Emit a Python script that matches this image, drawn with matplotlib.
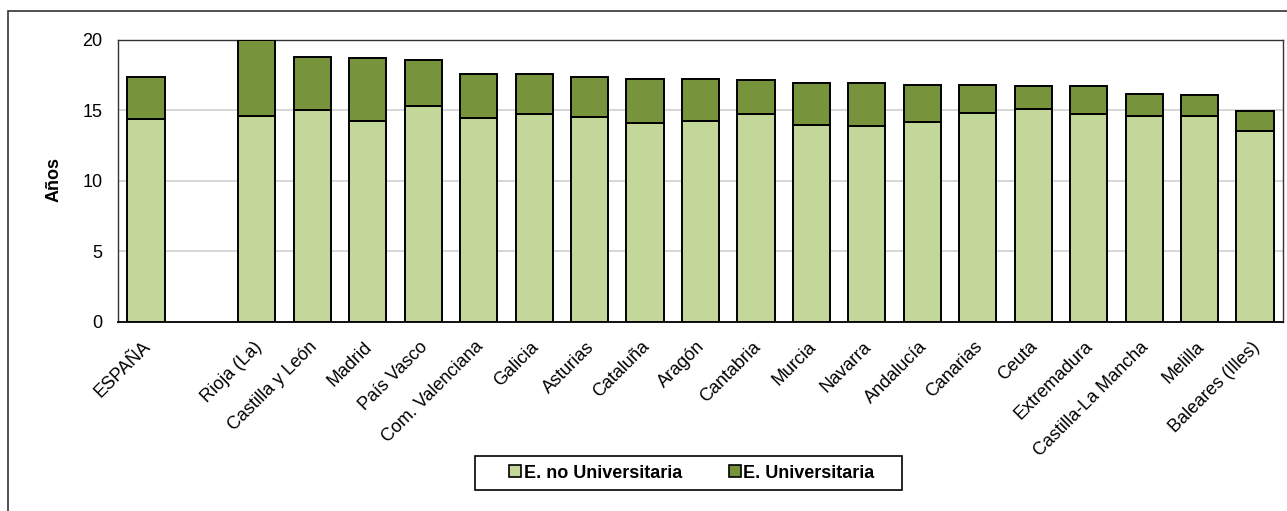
import matplotlib
matplotlib.use("Agg")
import matplotlib.pyplot as plt
from matplotlib.patches import Rectangle, Patch
from matplotlib.transforms import ScaledTranslation
import numpy as np

plt.rcParams['font.family'] = ['Liberation Sans', 'DejaVu Sans']

categories = ["ESPAÑA", "", "Rioja (La)", "Castilla y León", "Madrid", "País Vasco",
              "Com. Valenciana", "Galicia", "Asturias", "Cataluña", "Aragón",
              "Cantabria", "Murcia", "Navarra", "Andalucía", "Canarias", "Ceuta",
              "Extremadura", "Castilla-La Mancha", "Melilla", "Baleares (Illes)"]
no_univ = [14.37, 0, 14.61, 15.01, 14.25, 15.30, 14.46, 14.75, 14.52, 14.09, 14.28,
           14.75, 13.99, 13.92, 14.16, 14.85, 15.13, 14.73, 14.59, 14.59, 13.57]
total = [17.40, 0, 20.00, 18.82, 18.75, 18.56, 17.59, 17.59, 17.40, 17.26, 17.21,
         17.17, 16.98, 16.93, 16.83, 16.81, 16.74, 16.74, 16.17, 16.12, 14.96]
univ = [t - n for t, n in zip(total, no_univ)]

light = "#C4D79B"
dark = "#77933C"

fig = plt.figure(figsize=(12.87, 5.11), dpi=100)
ax = fig.add_axes([118.3/1287, 1-321.7/511, (1282.7-118.3)/1287, (321.7-40)/511])

x = np.arange(len(categories))
mask = np.array([c != "" for c in categories])
ax.bar(x[mask], np.array(no_univ)[mask], width=0.67, color=light, edgecolor="black", linewidth=1.4, zorder=3)
ax.bar(x[mask], np.array(univ)[mask], bottom=np.array(no_univ)[mask], width=0.67, color=dark,
       edgecolor="black", linewidth=1.4, zorder=3)

ax.set_xlim(-0.5, len(categories) - 0.5)
ax.set_ylim(0, 20)
ax.set_yticks([0, 5, 10, 15, 20])
ax.yaxis.grid(True, color="#d0d0d0", linewidth=1.2, zorder=0)
ax.set_axisbelow(True)
ax.tick_params(axis='y', length=0, labelsize=13, pad=11.5)
ax.tick_params(axis='x', length=0, labelsize=13, pad=12)
ax.set_xticks(x[mask])
ax.set_xticklabels([c for c in categories if c != ""], rotation=45, ha='right', va='top',
                   rotation_mode='anchor')
shift = ScaledTranslation(-4/100, 0, fig.dpi_scale_trans)
for lbl in ax.get_xticklabels():
    lbl.set_transform(lbl.get_transform() + shift)
for s in ax.spines.values():
    s.set_color("#333333")
    s.set_linewidth(1.0)
ax.spines['bottom'].set_color("black")
ax.spines['bottom'].set_linewidth(1.3)

fig.text(54/1287, 1-180/511, "Años", rotation=90, fontsize=13, fontweight='bold',
         ha='center', va='center')

handles = [Patch(facecolor=light, edgecolor="black", linewidth=1.2),
           Patch(facecolor=dark, edgecolor="black", linewidth=1.2)]
leg = fig.legend(handles, ["E. no Universitaria", "E. Universitaria"], ncol=2,
                 loc='center', bbox_to_anchor=(692/1287, 1-473/511),
                 prop={'weight': 'bold', 'size': 13}, frameon=False,
                 handlelength=0.65, handleheight=0.65, handletextpad=0.15,
                 columnspacing=2.6, borderpad=0, borderaxespad=0)

fig.patches.append(Rectangle((475/1287, 1-490/511), (902-475)/1287, (490-456)/511,
                             transform=fig.transFigure, fill=False, edgecolor="black",
                             linewidth=1.2))

fig.patches.append(Rectangle((8/1287, -0.2), 1.2, 1-11/511+0.2, transform=fig.transFigure,
                             fill=False, edgecolor="#333333", linewidth=1.2))

fig.savefig("out.png", dpi=100)
